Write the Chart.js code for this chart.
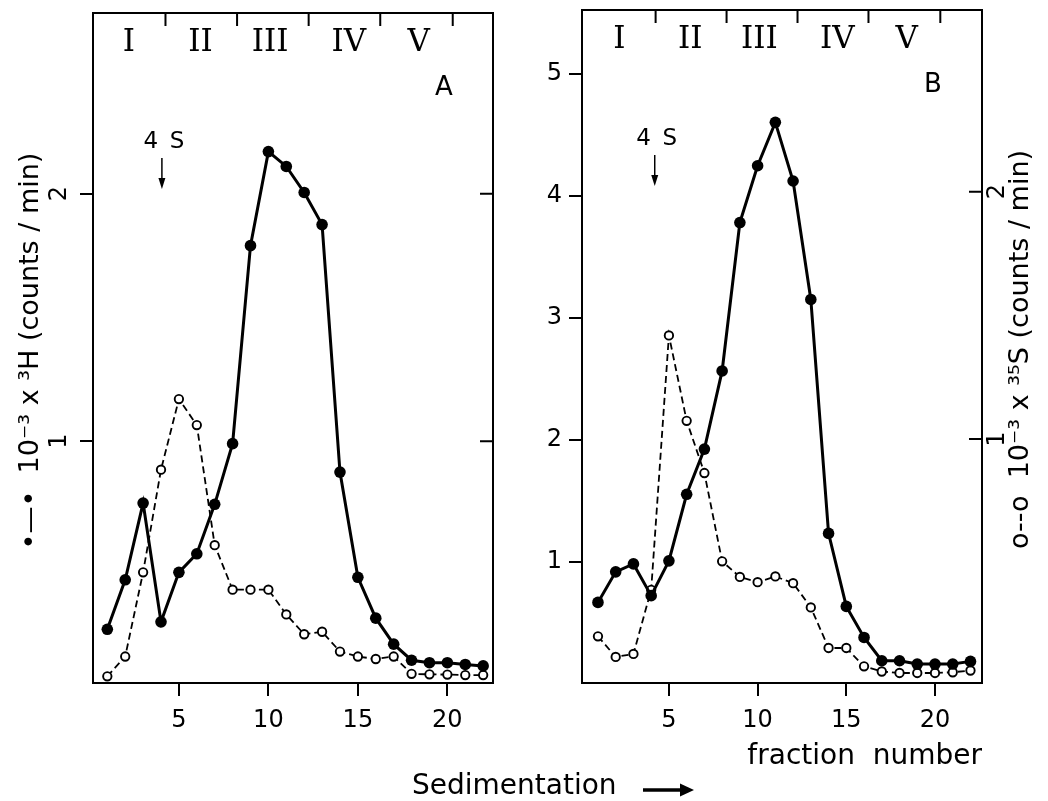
<!DOCTYPE html>
<html lang="en">
<head>
<meta charset="UTF-8">
<title>Sedimentation profiles</title>
<script src="https://cdn.jsdelivr.net/npm/chart.js"></script>
<style>
  html, body { margin: 0; padding: 0; background: #fff; }
  #wrap { position: relative; width: 1048px; height: 801px; }
  #chartA { position: absolute; left: 0; top: 0; }
  #chartB { position: absolute; left: 520px; top: 0; }
  #sed { position: absolute; left: 412px; top: 771px; font: 28px "DejaVu Sans"; line-height: 28px; color: #000; }
  #sedArrow { position: absolute; left: 641px; top: 780px; }
</style>
</head>
<body>
<div id="wrap">
  <canvas id="chartA" width="520" height="801"></canvas>
  <canvas id="chartB" width="528" height="801"></canvas>
  <div id="sed">Sedimentation</div>
  <svg id="sedArrow" width="56" height="20">
    <line x1="2" y1="10" x2="42" y2="10" stroke="#000" stroke-width="3.5"/>
    <polygon points="39,3.5 53,10 39,16.5" fill="#000"/>
  </svg>
</div>
<script>
// fraction numbers on the x axis
const fractions = [1, 2, 3, 4, 5, 6, 7, 8, 9, 10, 11, 12, 13, 14, 15, 16, 17, 18, 19, 20, 21, 22];

// panel A (10^-3 x counts/min)
const tritiumA = [0.24, 0.44, 0.75, 0.27, 0.47, 0.545, 0.745, 0.99, 1.79, 2.17, 2.11, 2.005, 1.875, 0.875, 0.45, 0.285, 0.18, 0.115, 0.105, 0.105, 0.098, 0.092];
const sulfurA = [0.05, 0.13, 0.47, 0.885, 1.17, 1.065, 0.58, 0.40, 0.40, 0.40, 0.30, 0.22, 0.23, 0.15, 0.13, 0.12, 0.13, 0.06, 0.058, 0.057, 0.055, 0.055];

// panel B
const tritiumB = [0.67, 0.92, 0.985, 0.725, 1.01, 1.555, 1.925, 2.565, 3.78, 4.245, 4.60, 4.12, 3.15, 1.235, 0.637, 0.383, 0.192, 0.192, 0.165, 0.165, 0.165, 0.187];
const sulfurB = [0.203, 0.12, 0.132, 0.391, 1.419, 1.074, 0.863, 0.506, 0.443, 0.422, 0.445, 0.418, 0.32, 0.156, 0.156, 0.082, 0.061, 0.055, 0.055, 0.055, 0.058, 0.065];

// tick labels
const xTicks = [5, 10, 15, 20];
const yTicksA = [1, 2];
const yTicksB = [1, 2, 3, 4, 5];
const y2Ticks = [1, 2];

// gradient zones along the top
const zoneLabels = ['I', 'II', 'III', 'IV', 'V'];
const zoneCenters = [2.2, 6.2, 10.1, 14.5, 18.4];
const zoneBounds = [4.25, 8.25, 12.25, 16.25, 20.3];

const titleA = '\u2022\u2014\u2022  10\u207B\u00B3 x \u00B3H (counts / min)';
const titleB = 'o--o  10\u207B\u00B3 x \u00B3\u2075S (counts / min)';

Chart.defaults.font.family = '"DejaVu Sans"';
Chart.defaults.color = '#000';

function pts(ys) {
    return fractions.map((f, i) => ({ x: f, y: ys[i] }));
}

function setTicks(vals) {
    return s => { s.ticks = vals.map(v => ({ value: v })); };
}

function rotText(ctx, txt, x, y) {
    ctx.save();
    ctx.translate(x, y);
    ctx.rotate(-Math.PI / 2);
    ctx.textAlign = 'center';
    ctx.textBaseline = 'middle';
    ctx.fillText(txt, 0, 0);
    ctx.restore();
}

// frame, zone marks, inward ticks, rotated labels and notes
const decor = {
    id: 'decor',
    afterDraw(chart, args, o) {
        const ctx = chart.ctx, a = chart.chartArea, xs = chart.scales.x, y2 = chart.scales.y2;
        ctx.save();
        ctx.strokeStyle = '#000';
        ctx.fillStyle = '#000';
        ctx.lineWidth = 2;
        ctx.strokeRect(a.left, a.top, a.right - a.left, a.bottom - a.top);

        ctx.beginPath();
        zoneBounds.forEach(b => {
            const x = xs.getPixelForValue(b);
            ctx.moveTo(x, a.top);
            ctx.lineTo(x, a.top + 13);
        });
        y2.ticks.forEach(t => {
            const y = y2.getPixelForValue(t.value);
            ctx.moveTo(a.right - 13, y);
            ctx.lineTo(a.right, y);
        });
        ctx.stroke();

        ctx.font = '31px "DejaVu Serif"';
        ctx.textAlign = 'center';
        ctx.textBaseline = 'middle';
        zoneLabels.forEach((z, i) => ctx.fillText(z, xs.getPixelForValue(zoneCenters[i]), a.top + 30));

        // rotated tick labels
        ctx.font = '24px "DejaVu Sans"';
        const rs = chart.scales[o.rotAxis];
        rs.ticks.forEach(t => rotText(ctx, String(t.value), o.rotX, rs.getPixelForValue(t.value)));

        // axis title
        ctx.font = '27px "DejaVu Sans"';
        rotText(ctx, o.title, o.titleX, (a.top + a.bottom) / 2 + 3);

        // panel letter
        ctx.font = '26px "DejaVu Sans"';
        ctx.fillText(o.letter, a.right - 49, a.top + 75);

        // 4 S marker
        const sx = xs.getPixelForValue(o.fourS);
        ctx.font = '23px "DejaVu Sans"';
        ctx.fillText('4\u2002S', sx + 2, a.top + 129);
        ctx.lineWidth = 1.5;
        ctx.beginPath();
        ctx.moveTo(sx, a.top + 145);
        ctx.lineTo(sx, a.top + 170);
        ctx.stroke();
        ctx.beginPath();
        ctx.moveTo(sx - 3.5, a.top + 165);
        ctx.lineTo(sx + 3.5, a.top + 165);
        ctx.lineTo(sx, a.top + 176);
        ctx.closePath();
        ctx.fill();
        ctx.restore();
    }
};

function noPad(s) {
    s.paddingTop = 0;
    s.paddingBottom = 0;
}

function makePanel(id, cfg) {
    const tickGrid = { drawOnChartArea: false, drawTicks: true, tickLength: 13, lineWidth: 2, color: '#000' };
    new Chart(document.getElementById(id), {
        type: 'line',
        data: {
            datasets: [{
                data: pts(cfg.filled),
                yAxisID: 'y',
                borderColor: '#000',
                borderWidth: 3,
                pointRadius: 5.8,
                pointBackgroundColor: '#000',
                pointBorderColor: '#000',
                pointBorderWidth: 0
            }, {
                data: pts(cfg.open),
                yAxisID: 'y2',
                borderColor: '#000',
                borderWidth: 1.8,
                borderDash: [7, 4],
                pointRadius: 4.2,
                pointBackgroundColor: '#fff',
                pointBorderColor: '#000',
                pointBorderWidth: 1.9
            }]
        },
        options: {
            responsive: false,
            animation: false,
            layout: { padding: { top: cfg.top, left: 0, right: 0, bottom: 0 } },
            plugins: {
                legend: { display: false },
                tooltip: { enabled: false },
                decor: cfg.decor
            },
            scales: {
                x: {
                    type: 'linear',
                    min: cfg.xMin, max: cfg.xMax,
                    afterBuildTicks: setTicks(xTicks),
                    afterFit: s => { s.height = 118; s.paddingLeft = 0; s.paddingRight = 0; },
                    grid: tickGrid,
                    border: { display: false },
                    ticks: { font: { size: 24 }, padding: 10, maxRotation: 0 },
                    title: cfg.xTitle
                },
                y: {
                    position: 'left',
                    min: cfg.yMin, max: cfg.yMax,
                    afterBuildTicks: setTicks(cfg.yTicks),
                    afterFit: s => { s.width = cfg.leftW; noPad(s); },
                    grid: tickGrid,
                    border: { display: false },
                    ticks: { display: cfg.leftLabels, font: { size: 24 }, padding: 7 }
                },
                y2: {
                    position: 'right',
                    min: cfg.y2Min, max: cfg.y2Max,
                    afterBuildTicks: setTicks(y2Ticks),
                    afterFit: s => { s.width = cfg.rightW; noPad(s); },
                    grid: { display: false },
                    border: { display: false },
                    ticks: { display: false }
                }
            }
        },
        plugins: [decor]
    });
}

makePanel('chartA', {
    filled: tritiumA, open: sulfurA, top: 13,
    xMin: 0.2, xMax: 22.55,
    yMin: 0.023, yMax: 2.73, yTicks: yTicksA,
    y2Min: 0.023, y2Max: 2.73,
    leftW: 93, rightW: 27, leftLabels: false,
    xTitle: { display: false },
    decor: { letter: 'A', fourS: 4.05, rotAxis: 'y', rotX: 60, title: titleA, titleX: 31 }
});

makePanel('chartB', {
    filled: tritiumB, open: sulfurB, top: 10,
    xMin: 0.1, xMax: 22.65,
    yMin: 0.01, yMax: 5.52, yTicks: yTicksB,
    y2Min: 0.0145, y2Max: 2.734,
    leftW: 62, rightW: 66, leftLabels: true,
    xTitle: { display: true, text: 'fraction  number', align: 'end', font: { size: 28 }, padding: { top: 0, bottom: 27 } },
    decor: { letter: 'B', fourS: 4.2, rotAxis: 'y2', rotX: 478, title: titleB, titleX: 501 }
});
</script>
</body>
</html>
